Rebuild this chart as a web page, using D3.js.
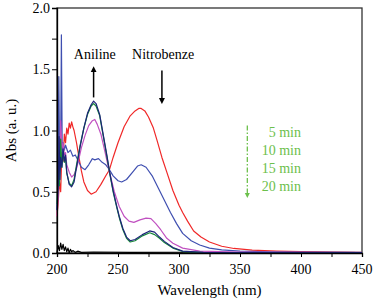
<!DOCTYPE html>
<html>
<head>
<meta charset="utf-8">
<script src="https://cdn.jsdelivr.net/npm/d3@7"></script>
<style>
  body { margin: 0; background: #fff; }
  .axis path, .axis line { stroke: #000; }
  .curve { fill: none; stroke-width: 1.2; stroke-linejoin: round; }
</style>
</head>
<body>
<script>
var width = 375, height = 304;
var margin = {top: 8, right: 13, bottom: 51, left: 57};
var serif = "Liberation Serif";

// wavelength (nm) / absorbance pairs
var red = [[200,0.3],[201,0.42],[202,0.58],[203,0.5],[204,0.82],[205,0.75],[206,0.97],[207,0.9],[208,1.02],[209,0.97],[210,1.06],[211,1.02],[212,1.07],[213,1.03],[214,1.0],[216,0.9],[218,0.78],[220,0.67],[222,0.58],[225,0.51],[228,0.48],[232,0.5],[236,0.56],[240,0.63],[243,0.68],[246,0.78],[250,0.9],[255,1.03],[260,1.12],[264,1.16],[267,1.18],[269,1.18],[272,1.16],[275,1.11],[279,1.02],[282,0.92],[286,0.78],[290,0.66],[295,0.51],[300,0.39],[303,0.33],[307,0.26],[312,0.18],[318,0.13],[325,0.09],[335,0.055],[345,0.037],[360,0.024],[380,0.016],[400,0.011],[425,0.007],[450,0.005]];
var blue = [[200,0.35],[200.8,0.6],[201.5,1.44],[202.2,0.72],[203,0.85],[203.6,1.78],[204.3,0.8],[205,0.9],[206,0.84],[207,0.88],[209,0.82],[211,0.84],[213,0.79],[215,0.8],[218,0.74],[220,0.7],[223,0.68],[226,0.72],[229,0.77],[231,0.76],[234,0.77],[237,0.74],[240,0.72],[243,0.68],[246,0.63],[250,0.59],[253,0.58],[257,0.6],[262,0.66],[266,0.71],[269,0.72],[273,0.7],[278,0.63],[283,0.53],[288,0.43],[293,0.33],[298,0.24],[303,0.16],[310,0.1],[317,0.065],[325,0.04],[335,0.025],[350,0.015],[375,0.01],[400,0.008],[450,0.005]];
var magenta = [[200,0.3],[201,0.45],[202,0.7],[203,1.08],[204,0.85],[205,0.9],[206,0.8],[207,0.82],[208,0.72],[210,0.66],[212,0.62],[214,0.64],[216,0.69],[218,0.77],[220,0.86],[223,0.96],[226,1.04],[229,1.08],[231,1.09],[233,1.05],[236,0.97],[239,0.84],[243,0.66],[247,0.5],[251,0.38],[255,0.3],[259,0.26],[263,0.25],[268,0.27],[273,0.285],[277,0.28],[281,0.24],[285,0.19],[290,0.12],[295,0.08],[303,0.04],[317,0.016],[350,0.008],[450,0.004]];
var green = [[200,0.4],[201,0.62],[202,0.55],[203,0.93],[204,0.7],[205,0.82],[206,0.74],[207,0.78],[208,0.65],[210,0.57],[212,0.55],[214,0.6],[216,0.72],[219,0.88],[222,1.02],[225,1.13],[228,1.2],[230,1.22],[232,1.2],[235,1.12],[238,0.95],[241,0.78],[243,0.66],[246,0.5],[249,0.37],[251,0.29],[254,0.19],[257,0.12],[260,0.09],[264,0.1],[270,0.14],[276,0.165],[280,0.15],[284,0.12],[288,0.085],[295,0.04],[303,0.012],[320,0.004],[450,0.002]];
var navy = [[200,0.35],[201,0.55],[201.7,0.95],[202.4,0.6],[203,0.78],[204,0.7],[205,0.85],[206,0.75],[207,0.8],[208,0.66],[210,0.56],[212,0.54],[214,0.58],[216,0.7],[219,0.87],[222,1.02],[225,1.14],[228,1.21],[230,1.24],[232,1.22],[235,1.13],[238,0.96],[241,0.79],[243,0.67],[246,0.51],[249,0.38],[251,0.3],[254,0.2],[257,0.13],[260,0.1],[264,0.11],[270,0.15],[276,0.18],[280,0.17],[284,0.13],[288,0.095],[295,0.045],[303,0.015],[320,0.005],[450,0.003]];
var black = [[200,0.0],[201,0.06],[202,0.02],[203,0.08],[204,0.03],[205,0.07],[206,0.02],[207,0.05],[208,0.01],[209,0.04],[210,0.0],[211,0.03],[212,0.01],[213,0.02],[215,0.005],[217,0.015],[220,0.005],[230,0.008],[260,0.005],[300,0.006],[350,0.004],[400,0.005],[450,0.004]];

var series = [
  {data: black, color: "#000000"},
  {data: red, color: "#f02828"},
  {data: blue, color: "#3f4fb0"},
  {data: magenta, color: "#c050c0"},
  {data: green, color: "#16883a"},
  {data: navy, color: "#1c2478"}
];

var xTicks = [200, 250, 300, 350, 400, 450];
var yTicks = [0.0, 0.5, 1.0, 1.5, 2.0];
var legendLabels = ["5 min", "10 min", "15 min", "20 min"];

var svg = d3.select("body").append("svg").attr("width", width).attr("height", height);
var w = width - margin.left - margin.right, h = height - margin.top - margin.bottom;

var x = d3.scaleLinear().domain([200, 450]).range([margin.left, margin.left + w]);
var y = d3.scaleLinear().domain([0, 2]).range([margin.top + h, margin.top]);

// frame
svg.append("rect")
  .attr("x", x(200)).attr("y", y(2))
  .attr("width", w).attr("height", h)
  .attr("fill", "none").attr("stroke", "#333").attr("stroke-width", 1.3);

var line = d3.line().x(function(d){ return x(d[0]); }).y(function(d){ return y(d[1]); });

svg.append("g").selectAll("path")
  .data(series)
  .enter().append("path")
    .attr("class", "curve")
    .attr("stroke", function(d){ return d.color; })
    .attr("d", function(d){ return line(d.data); });

// axes, labels drawn separately so the serif face is not overridden
svg.append("g").attr("class", "axis")
  .attr("transform", "translate(0," + y(0) + ")")
  .call(d3.axisBottom(x).tickValues(d3.range(200, 451, 25)).tickSize(4).tickFormat(""));

svg.append("g").attr("class", "axis")
  .attr("transform", "translate(" + x(200) + ",0)")
  .call(d3.axisLeft(y).tickValues(d3.range(0, 2.01, 0.25)).tickSize(5).tickFormat(""));
svg.selectAll(".axis path").attr("stroke-width", 1.3);

svg.selectAll("text.xlab").data(xTicks).enter().append("text")
  .attr("class", "xlab")
  .attr("x", function(d){ return x(d); }).attr("y", y(0) + 21)
  .attr("text-anchor", "middle").attr("font-family", serif).attr("font-size", 14)
  .text(function(d){ return d; });

svg.selectAll("text.ylab").data(yTicks).enter().append("text")
  .attr("class", "ylab")
  .attr("x", x(200) - 7).attr("y", function(d){ return y(d) + 5; })
  .attr("text-anchor", "end").attr("font-family", serif).attr("font-size", 14)
  .text(function(d){ return d3.format(".1f")(d); });

svg.append("text")
  .attr("x", margin.left + w / 2).attr("y", 295)
  .attr("text-anchor", "middle").attr("font-size", 15).attr("font-family", serif)
  .text("Wavelength (nm)");

svg.append("text")
  .attr("transform", "translate(16," + (margin.top + h / 2) + ") rotate(-90)")
  .attr("text-anchor", "middle").attr("font-size", 15).attr("font-family", serif)
  .text("Abs (a. u.)");

// annotations
svg.append("defs").selectAll("marker")
  .data([{id: "ahBlack", color: "#000"}, {id: "ahGreen", color: "#6cc04c"}])
  .enter().append("marker")
    .attr("id", function(d){ return d.id; })
    .attr("viewBox", "0 0 10 10").attr("refX", 5).attr("refY", 5)
    .attr("markerWidth", 4).attr("markerHeight", 5).attr("orient", "auto")
  .append("path").attr("d", "M0,0L10,5L0,10Z").attr("fill", function(d){ return d.color; });

svg.append("text").attr("x", x(231)).attr("y", y(1.58))
  .attr("text-anchor", "middle").attr("font-size", 14).attr("font-family", serif).text("Aniline");
svg.append("line")
  .attr("x1", x(230)).attr("y1", y(1.27)).attr("x2", x(230)).attr("y2", y(1.5))
  .attr("stroke", "#000").attr("stroke-width", 1.5).attr("marker-end", "url(#ahBlack)");

svg.append("text").attr("x", x(287)).attr("y", y(1.58))
  .attr("text-anchor", "middle").attr("font-size", 14).attr("font-family", serif).text("Nitrobenze");
svg.append("line")
  .attr("x1", x(286)).attr("y1", y(1.49)).attr("x2", x(286)).attr("y2", y(1.24))
  .attr("stroke", "#000").attr("stroke-width", 1.5).attr("marker-end", "url(#ahBlack)");

// time legend
svg.append("line")
  .attr("x1", x(356)).attr("y1", y(1.04)).attr("x2", x(356)).attr("y2", y(0.47))
  .attr("stroke", "#6cc04c").attr("stroke-width", 1.3)
  .attr("stroke-dasharray", "5,2,1.5,2").attr("marker-end", "url(#ahGreen)");

svg.append("g").selectAll("text")
  .data(legendLabels)
  .enter().append("text")
    .attr("x", x(400))
    .attr("y", function(d, i){ return y(0.95) + i * 18; })
    .attr("text-anchor", "end").attr("font-size", 14).attr("font-family", serif)
    .attr("fill", "#6cc04c")
    .text(function(d){ return d; });
</script>
</body>
</html>
